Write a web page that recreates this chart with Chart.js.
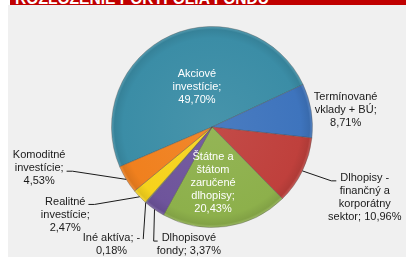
<!DOCTYPE html>
<html><head><meta charset="utf-8">
<script src="https://cdn.jsdelivr.net/npm/chart.js@4"></script>
<style>
html,body{margin:0;padding:0;background:#fff;width:406px;height:257px;overflow:hidden;}
#panel{position:absolute;left:8px;top:5px;width:398px;height:252px;background:#f0f0f0;}
#title{position:absolute;left:10px;top:0;width:396px;height:5px;background:#c00000;overflow:hidden;}
#title span{position:absolute;left:5px;top:-9px;font:bold 15.6px "Liberation Sans",Arial,sans-serif;color:#fff;line-height:15px;white-space:nowrap;}
#wrap{position:absolute;left:0;top:0;width:406px;height:257px;}
</style></head><body>
<div id="panel"></div>
<div id="title"><span>ROZLOŽENIE PORTFÓLIA FONDU</span></div>
<div id="wrap"><canvas id="c" width="406" height="257"></canvas></div>
<script>
const categories = [
  "Akciové investície",
  "Termínované vklady + BÚ",
  "Dlhopisy - finančný a korporátny sektor",
  "Štátne a štátom zaručené dlhopisy",
  "Dlhopisové fondy",
  "Iné aktíva",
  "Realitné investície",
  "Komoditné investície"
];
const shares = [49.70, 8.71, 10.96, 20.43, 3.37, -0.18, 2.47, 4.53];
const sliceColors = ["#3b8da6", "#3e74bd", "#bf403c", "#8db04b", "#6e549b", "#8b8b8b", "#f6d31c", "#f0801e"];

// label layout (offsets in units of pie radius from the pie centre)
const labelLayout = [
  {dx:-0.15, dy:-0.40, maxW:60, color:"#ffffff"},
  {dx: 1.33, dy:-0.17, maxW:72, color:"#1a1a1a"},
  {dx: 1.52, dy: 0.70, maxW:80, color:"#1a1a1a", leader:{line:0, side:"left", gap:4, dy:3, elbow:5}},
  {dx: 0.01, dy: 0.56, maxW:58, color:"#ffffff"},
  {dx:-0.23, dy: 1.17, maxW:70, color:"#1a1a1a", leader:{line:0, side:"left", gap:4, dy:3, elbow:4}},
  {dx:-1.00, dy: 1.17, maxW:65, color:"#1a1a1a", leader:{line:0, side:"right", gap:3, dy:1, elbow:0}},
  {dx:-1.46, dy: 0.88, maxW:60, color:"#1a1a1a", leader:{line:0, side:"right", gap:3, dy:2, elbow:6}},
  {dx:-1.72, dy: 0.41, maxW:60, color:"#1a1a1a", leader:{line:1, side:"right", gap:3, dy:3, elbow:6}}
];

function fmt(v){ return v.toFixed(2).replace('.', ',') + '%'; }
function wrap(ctx, text, maxW){
  const pieces = text.match(/[^ \-]*[ \-]+|[^ \-]+$/g);
  const lines = []; let cur = '';
  pieces.forEach(p=>{
    const t = cur + p;
    if (cur && ctx.measureText(t.trimEnd()).width > maxW){ lines.push(cur.trimEnd()); cur = p; }
    else cur = t;
  });
  if (cur) lines.push(cur.trimEnd());
  return lines;
}
function shade(hex, f){
  const n = parseInt(hex.slice(1),16);
  let r=(n>>16)&255, g=(n>>8)&255, b=n&255;
  const m = c => Math.max(0, Math.min(255, Math.round(f>0 ? c+(255-c)*f : c*(1+f))));
  return 'rgb('+m(r)+','+m(g)+','+m(b)+')';
}

const labelPlugin = {
  id:'sliceLabels',
  afterDatasetsDraw(chart){
    const ctx = chart.ctx;
    const meta = chart.getDatasetMeta(0);
    ctx.save();
    ctx.font = '11px "Liberation Sans", Arial, sans-serif';
    ctx.textAlign = 'center'; ctx.textBaseline = 'middle';
    meta.data.forEach((arc,i)=>{
      const L = labelLayout[i];
      const p = arc.getProps(['x','y','startAngle','endAngle','outerRadius'], true);
      const R = p.outerRadius;
      const lines = wrap(ctx, categories[i] + '; ' + fmt(shares[i]), L.maxW);
      const lh = 13;
      const cx = p.x + L.dx*R, cy = p.y + L.dy*R;
      const y0 = cy - (lines.length-1)*lh/2;
      if (L.leader){
        const mid = (p.startAngle + p.endAngle)/2;
        const px = p.x + Math.cos(mid)*R, py = p.y + Math.sin(mid)*R;
        const w = ctx.measureText(lines[L.leader.line]).width;
        const ly = y0 + L.leader.line*lh + L.leader.dy;
        const ex = L.leader.side === 'left' ? cx - w/2 - L.leader.gap : cx + w/2 + L.leader.gap;
        const bx = L.leader.side === 'left' ? ex - L.leader.elbow : ex + L.leader.elbow;
        ctx.beginPath(); ctx.moveTo(px,py); ctx.lineTo(bx,ly); ctx.lineTo(ex,ly);
        ctx.strokeStyle = '#1a1a1a'; ctx.lineWidth = 1; ctx.stroke();
      }
      ctx.fillStyle = L.color;
      lines.forEach((s,k)=>ctx.fillText(s, cx, y0 + k*lh));
    });
    ctx.restore();
  }
};

new Chart(document.getElementById('c'), {
  type:'pie',
  data:{
    labels:categories,
    datasets:[{
      data:shares.map(v=>Math.abs(v)),
      backgroundColor:(c)=>{
        const base = sliceColors[c.dataIndex];
        const el = c.element;
        if (!el || !c.chart.chartArea) return base;
        const ca = c.chart.chartArea;
        const x = (ca.left+ca.right)/2, y = (ca.top+ca.bottom)/2, R = Math.min(ca.right-ca.left, ca.bottom-ca.top)/2;
        const g = c.chart.ctx.createRadialGradient(x, y, 0, x, y, R);
        g.addColorStop(0, shade(base, 0.06));
        g.addColorStop(0.88, base);
        g.addColorStop(0.965, shade(base, -0.08));
        g.addColorStop(1, shade(base, 0.18));
        return g;
      },
      borderColor:'rgba(70,70,70,0.35)',
      borderWidth:1
    }]
  },
  options:{
    responsive:false,
    animation:false,
    rotation:-113.3,
    layout:{padding:{left:111,right:93,top:26,bottom:29}},
    plugins:{legend:{display:false},tooltip:{enabled:false},title:{display:false}}
  },
  plugins:[labelPlugin]
});
</script>
</body></html>
